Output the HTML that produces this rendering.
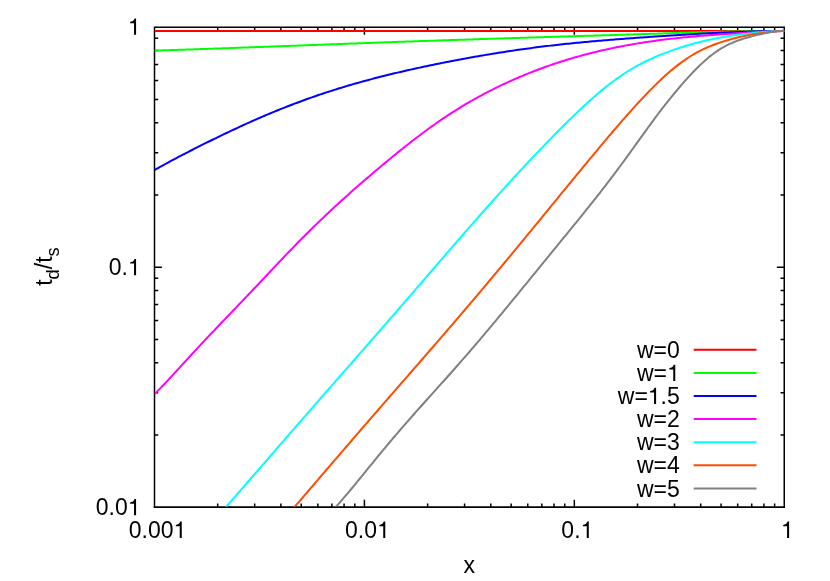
<!DOCTYPE html>
<html><head><meta charset="utf-8"><title>plot</title>
<style>
html,body{margin:0;padding:0;background:#fff;}
body{width:830px;height:581px;overflow:hidden;}
svg{display:block;will-change:transform;}
text{font-family:"Liberation Sans",sans-serif;font-size:23px;fill:#000;}
</style></head><body>
<svg width="830" height="581" viewBox="0 0 830 581">
<rect width="830" height="581" fill="#fff"/>
<defs><clipPath id="c"><rect x="154.5" y="27.35" width="629.75" height="479.09999999999997"/></clipPath></defs>
<path d="M154.5 507.95V26.6M784.25 507.95V26.6M153.75 27.35H785.0" fill="none" stroke="#000" stroke-width="1.5"/><path d="M153.75 507.15H785.0" fill="none" stroke="#000" stroke-width="1.6"/><path d="M217.69 507.15v-3.7M217.69 27.35v3.7M254.66 507.15v-3.7M254.66 27.35v3.7M280.88 507.15v-3.7M280.88 27.35v3.7M301.23 507.15v-3.7M301.23 27.35v3.7M317.85 507.15v-3.7M317.85 27.35v3.7M331.90 507.15v-3.7M331.90 27.35v3.7M344.07 507.15v-3.7M344.07 27.35v3.7M354.81 507.15v-3.7M354.81 27.35v3.7M364.42 507.15v-7.4M364.42 27.35v7.4M427.61 507.15v-3.7M427.61 27.35v3.7M464.57 507.15v-3.7M464.57 27.35v3.7M490.80 507.15v-3.7M490.80 27.35v3.7M511.14 507.15v-3.7M511.14 27.35v3.7M527.76 507.15v-3.7M527.76 27.35v3.7M541.82 507.15v-3.7M541.82 27.35v3.7M553.99 507.15v-3.7M553.99 27.35v3.7M564.73 507.15v-3.7M564.73 27.35v3.7M574.33 507.15v-7.4M574.33 27.35v7.4M637.52 507.15v-3.7M637.52 27.35v3.7M674.49 507.15v-3.7M674.49 27.35v3.7M700.72 507.15v-3.7M700.72 27.35v3.7M721.06 507.15v-3.7M721.06 27.35v3.7M737.68 507.15v-3.7M737.68 27.35v3.7M751.73 507.15v-3.7M751.73 27.35v3.7M763.91 507.15v-3.7M763.91 27.35v3.7M774.64 507.15v-3.7M774.64 27.35v3.7M154.5 434.93h3.7M784.25 434.93h-3.7M154.5 392.69h3.7M784.25 392.69h-3.7M154.5 362.72h3.7M784.25 362.72h-3.7M154.5 339.47h3.7M784.25 339.47h-3.7M154.5 320.47h3.7M784.25 320.47h-3.7M154.5 304.41h3.7M784.25 304.41h-3.7M154.5 290.50h3.7M784.25 290.50h-3.7M154.5 278.23h3.7M784.25 278.23h-3.7M154.5 267.25h7.4M784.25 267.25h-7.4M154.5 195.03h3.7M784.25 195.03h-3.7M154.5 152.79h3.7M784.25 152.79h-3.7M154.5 122.82h3.7M784.25 122.82h-3.7M154.5 99.57h3.7M784.25 99.57h-3.7M154.5 80.57h3.7M784.25 80.57h-3.7M154.5 64.51h3.7M784.25 64.51h-3.7M154.5 50.60h3.7M784.25 50.60h-3.7M154.5 38.33h3.7M784.25 38.33h-3.7" stroke="#000" stroke-width="1.5" fill="none"/>
<g clip-path="url(#c)" fill="none" stroke-width="2" stroke-linejoin="round">
<path d="M154.5 31.05H784.5" stroke="#ff0000"/>
<path d="M154.5 50.61L156.5 50.55L158.5 50.48L160.5 50.42L162.5 50.36L164.5 50.29L166.5 50.23L168.5 50.17L170.5 50.10L172.5 50.04L174.5 49.97L176.5 49.91L178.5 49.84L180.5 49.78L182.5 49.71L184.5 49.64L186.5 49.58L188.5 49.51L190.5 49.44L192.5 49.38L194.5 49.31L196.5 49.24L198.5 49.17L200.5 49.11L202.5 49.04L204.5 48.97L206.5 48.90L208.5 48.83L210.5 48.76L212.5 48.69L214.5 48.62L216.5 48.55L218.5 48.48L220.5 48.41L222.5 48.34L224.5 48.27L226.5 48.20L228.5 48.13L230.5 48.05L232.5 47.98L234.5 47.91L236.5 47.84L238.5 47.77L240.5 47.69L242.5 47.62L244.5 47.55L246.5 47.48L248.5 47.40L250.5 47.33L252.5 47.26L254.5 47.19L256.5 47.11L258.5 47.04L260.5 46.96L262.5 46.89L264.5 46.82L266.5 46.74L268.5 46.67L270.5 46.60L272.5 46.52L274.5 46.45L276.5 46.37L278.5 46.30L280.5 46.22L282.5 46.15L284.5 46.07L286.5 46.00L288.5 45.93L290.5 45.85L292.5 45.78L294.5 45.70L296.5 45.63L298.5 45.55L300.5 45.48L302.5 45.40L304.5 45.33L306.5 45.25L308.5 45.18L310.5 45.10L312.5 45.03L314.5 44.95L316.5 44.88L318.5 44.80L320.5 44.73L322.5 44.65L324.5 44.58L326.5 44.50L328.5 44.43L330.5 44.35L332.5 44.28L334.5 44.20L336.5 44.13L338.5 44.06L340.5 43.98L342.5 43.91L344.5 43.83L346.5 43.76L348.5 43.68L350.5 43.61L352.5 43.54L354.5 43.46L356.5 43.39L358.5 43.32L360.5 43.24L362.5 43.17L364.5 43.09L366.5 43.02L368.5 42.95L370.5 42.88L372.5 42.80L374.5 42.73L376.5 42.66L378.5 42.59L380.5 42.51L382.5 42.44L384.5 42.37L386.5 42.30L388.5 42.23L390.5 42.15L392.5 42.08L394.5 42.01L396.5 41.94L398.5 41.87L400.5 41.80L402.5 41.73L404.5 41.66L406.5 41.59L408.5 41.52L410.5 41.45L412.5 41.38L414.5 41.31L416.5 41.24L418.5 41.18L420.5 41.11L422.5 41.04L424.5 40.97L426.5 40.90L428.5 40.83L430.5 40.77L432.5 40.70L434.5 40.63L436.5 40.56L438.5 40.50L440.5 40.43L442.5 40.36L444.5 40.30L446.5 40.23L448.5 40.16L450.5 40.10L452.5 40.03L454.5 39.97L456.5 39.90L458.5 39.84L460.5 39.77L462.5 39.70L464.5 39.64L466.5 39.57L468.5 39.51L470.5 39.44L472.5 39.38L474.5 39.31L476.5 39.25L478.5 39.19L480.5 39.12L482.5 39.06L484.5 38.99L486.5 38.93L488.5 38.87L490.5 38.80L492.5 38.74L494.5 38.67L496.5 38.61L498.5 38.55L500.5 38.48L502.5 38.42L504.5 38.36L506.5 38.30L508.5 38.23L510.5 38.17L512.5 38.11L514.5 38.04L516.5 37.98L518.5 37.92L520.5 37.86L522.5 37.79L524.5 37.73L526.5 37.67L528.5 37.61L530.5 37.54L532.5 37.48L534.5 37.42L536.5 37.36L538.5 37.30L540.5 37.23L542.5 37.17L544.5 37.11L546.5 37.05L548.5 36.99L550.5 36.92L552.5 36.86L554.5 36.80L556.5 36.74L558.5 36.68L560.5 36.61L562.5 36.55L564.5 36.49L566.5 36.43L568.5 36.37L570.5 36.31L572.5 36.24L574.5 36.18L576.5 36.12L578.5 36.06L580.5 36.00L582.5 35.94L584.5 35.87L586.5 35.81L588.5 35.75L590.5 35.69L592.5 35.63L594.5 35.56L596.5 35.50L598.5 35.44L600.5 35.38L602.5 35.32L604.5 35.26L606.5 35.19L608.5 35.13L610.5 35.07L612.5 35.01L614.5 34.95L616.5 34.88L618.5 34.82L620.5 34.76L622.5 34.70L624.5 34.63L626.5 34.57L628.5 34.51L630.5 34.45L632.5 34.38L634.5 34.32L636.5 34.26L638.5 34.19L640.5 34.13L642.5 34.07L644.5 34.01L646.5 33.94L648.5 33.88L650.5 33.82L652.5 33.75L654.5 33.69L656.5 33.63L658.5 33.56L660.5 33.50L662.5 33.44L664.5 33.37L666.5 33.31L668.5 33.25L670.5 33.18L672.5 33.12L674.5 33.06L676.5 33.00L678.5 32.94L680.5 32.87L682.5 32.81L684.5 32.75L686.5 32.69L688.5 32.63L690.5 32.58L692.5 32.52L694.5 32.46L696.5 32.40L698.5 32.35L700.5 32.29L702.5 32.24L704.5 32.18L706.5 32.13L708.5 32.08L710.5 32.03L712.5 31.98L714.5 31.93L716.5 31.88L718.5 31.83L720.5 31.79L722.5 31.74L724.5 31.70L726.5 31.65L728.5 31.61L730.5 31.57L732.5 31.53L734.5 31.49L736.5 31.46L738.5 31.42L740.5 31.39L742.5 31.35L744.5 31.32L746.5 31.29L748.5 31.26L750.5 31.24L752.5 31.21L754.5 31.19L756.5 31.17L758.5 31.15L760.5 31.13L762.5 31.11L764.5 31.10L766.5 31.08L768.5 31.07L770.5 31.06L772.5 31.05L774.5 31.05L776.5 31.04L778.5 31.04L780.5 31.04L782.5 31.05L784.5 31.05" stroke="#00ff00"/>
<path d="M154.5 170.15L156.5 168.99L158.5 167.85L160.5 166.73L162.5 165.61L164.5 164.50L166.5 163.40L168.5 162.31L170.5 161.23L172.5 160.15L174.5 159.08L176.5 158.02L178.5 156.97L180.5 155.92L182.5 154.88L184.5 153.84L186.5 152.81L188.5 151.78L190.5 150.75L192.5 149.74L194.5 148.72L196.5 147.71L198.5 146.70L200.5 145.70L202.5 144.70L204.5 143.71L206.5 142.71L208.5 141.73L210.5 140.74L212.5 139.76L214.5 138.78L216.5 137.81L218.5 136.84L220.5 135.88L222.5 134.91L224.5 133.96L226.5 133.00L228.5 132.05L230.5 131.11L232.5 130.16L234.5 129.23L236.5 128.30L238.5 127.37L240.5 126.45L242.5 125.53L244.5 124.61L246.5 123.71L248.5 122.80L250.5 121.91L252.5 121.02L254.5 120.13L256.5 119.25L258.5 118.38L260.5 117.51L262.5 116.64L264.5 115.79L266.5 114.94L268.5 114.09L270.5 113.25L272.5 112.42L274.5 111.60L276.5 110.78L278.5 109.96L280.5 109.16L282.5 108.36L284.5 107.56L286.5 106.78L288.5 106.00L290.5 105.22L292.5 104.45L294.5 103.69L296.5 102.94L298.5 102.19L300.5 101.45L302.5 100.71L304.5 99.99L306.5 99.26L308.5 98.55L310.5 97.84L312.5 97.14L314.5 96.44L316.5 95.75L318.5 95.07L320.5 94.39L322.5 93.72L324.5 93.06L326.5 92.40L328.5 91.75L330.5 91.10L332.5 90.46L334.5 89.83L336.5 89.20L338.5 88.58L340.5 87.96L342.5 87.35L344.5 86.75L346.5 86.15L348.5 85.56L350.5 84.97L352.5 84.39L354.5 83.81L356.5 83.24L358.5 82.68L360.5 82.12L362.5 81.56L364.5 81.01L366.5 80.47L368.5 79.93L370.5 79.39L372.5 78.86L374.5 78.34L376.5 77.82L378.5 77.30L380.5 76.79L382.5 76.28L384.5 75.78L386.5 75.28L388.5 74.79L390.5 74.30L392.5 73.82L394.5 73.34L396.5 72.86L398.5 72.39L400.5 71.92L402.5 71.45L404.5 70.99L406.5 70.53L408.5 70.08L410.5 69.63L412.5 69.18L414.5 68.74L416.5 68.30L418.5 67.86L420.5 67.43L422.5 67.00L424.5 66.57L426.5 66.15L428.5 65.73L430.5 65.31L432.5 64.90L434.5 64.48L436.5 64.08L438.5 63.67L440.5 63.27L442.5 62.87L444.5 62.47L446.5 62.08L448.5 61.69L450.5 61.30L452.5 60.91L454.5 60.53L456.5 60.15L458.5 59.78L460.5 59.40L462.5 59.03L464.5 58.66L466.5 58.29L468.5 57.93L470.5 57.57L472.5 57.21L474.5 56.86L476.5 56.51L478.5 56.16L480.5 55.81L482.5 55.47L484.5 55.13L486.5 54.79L488.5 54.46L490.5 54.12L492.5 53.79L494.5 53.47L496.5 53.15L498.5 52.83L500.5 52.51L502.5 52.20L504.5 51.89L506.5 51.58L508.5 51.27L510.5 50.97L512.5 50.67L514.5 50.38L516.5 50.09L518.5 49.80L520.5 49.52L522.5 49.23L524.5 48.96L526.5 48.68L528.5 48.41L530.5 48.14L532.5 47.87L534.5 47.61L536.5 47.35L538.5 47.10L540.5 46.85L542.5 46.60L544.5 46.35L546.5 46.11L548.5 45.87L550.5 45.63L552.5 45.40L554.5 45.17L556.5 44.94L558.5 44.72L560.5 44.50L562.5 44.28L564.5 44.07L566.5 43.86L568.5 43.65L570.5 43.44L572.5 43.24L574.5 43.04L576.5 42.84L578.5 42.65L580.5 42.45L582.5 42.26L584.5 42.08L586.5 41.89L588.5 41.71L590.5 41.53L592.5 41.35L594.5 41.17L596.5 41.00L598.5 40.82L600.5 40.65L602.5 40.49L604.5 40.32L606.5 40.15L608.5 39.99L610.5 39.83L612.5 39.67L614.5 39.51L616.5 39.35L618.5 39.20L620.5 39.04L622.5 38.89L624.5 38.74L626.5 38.58L628.5 38.43L630.5 38.29L632.5 38.14L634.5 37.99L636.5 37.85L638.5 37.70L640.5 37.56L642.5 37.41L644.5 37.27L646.5 37.13L648.5 36.99L650.5 36.85L652.5 36.71L654.5 36.58L656.5 36.44L658.5 36.31L660.5 36.17L662.5 36.04L664.5 35.90L666.5 35.77L668.5 35.64L670.5 35.51L672.5 35.38L674.5 35.26L676.5 35.13L678.5 35.01L680.5 34.88L682.5 34.76L684.5 34.64L686.5 34.52L688.5 34.40L690.5 34.28L692.5 34.17L694.5 34.06L696.5 33.94L698.5 33.83L700.5 33.72L702.5 33.62L704.5 33.51L706.5 33.41L708.5 33.31L710.5 33.21L712.5 33.11L714.5 33.01L716.5 32.92L718.5 32.82L720.5 32.73L722.5 32.64L724.5 32.56L726.5 32.47L728.5 32.39L730.5 32.31L732.5 32.23L734.5 32.15L736.5 32.07L738.5 32.00L740.5 31.92L742.5 31.85L744.5 31.78L746.5 31.71L748.5 31.65L750.5 31.58L752.5 31.52L754.5 31.46L756.5 31.40L758.5 31.34L760.5 31.29L762.5 31.24L764.5 31.19L766.5 31.15L768.5 31.11L770.5 31.08L772.5 31.05L774.5 31.03L776.5 31.02L778.5 31.01L780.5 31.01L782.5 31.03L784.5 31.05" stroke="#0000ff"/>
<path d="M154.5 394.10L156.5 392.14L158.5 390.14L160.5 388.10L162.5 386.03L164.5 383.94L166.5 381.82L168.5 379.68L170.5 377.53L172.5 375.37L174.5 373.19L176.5 371.01L178.5 368.83L180.5 366.64L182.5 364.45L184.5 362.26L186.5 360.08L188.5 357.90L190.5 355.72L192.5 353.55L194.5 351.38L196.5 349.22L198.5 347.07L200.5 344.92L202.5 342.78L204.5 340.65L206.5 338.53L208.5 336.41L210.5 334.29L212.5 332.19L214.5 330.08L216.5 327.99L218.5 325.89L220.5 323.80L222.5 321.71L224.5 319.63L226.5 317.54L228.5 315.46L230.5 313.37L232.5 311.29L234.5 309.20L236.5 307.11L238.5 305.02L240.5 302.93L242.5 300.83L244.5 298.73L246.5 296.63L248.5 294.52L250.5 292.41L252.5 290.30L254.5 288.19L256.5 286.07L258.5 283.95L260.5 281.83L262.5 279.71L264.5 277.59L266.5 275.47L268.5 273.34L270.5 271.22L272.5 269.10L274.5 266.99L276.5 264.87L278.5 262.76L280.5 260.66L282.5 258.56L284.5 256.46L286.5 254.37L288.5 252.29L290.5 250.22L292.5 248.15L294.5 246.09L296.5 244.04L298.5 242.00L300.5 239.97L302.5 237.95L304.5 235.94L306.5 233.94L308.5 231.95L310.5 229.98L312.5 228.01L314.5 226.06L316.5 224.11L318.5 222.18L320.5 220.26L322.5 218.35L324.5 216.45L326.5 214.56L328.5 212.68L330.5 210.81L332.5 208.95L334.5 207.10L336.5 205.26L338.5 203.43L340.5 201.61L342.5 199.79L344.5 197.99L346.5 196.19L348.5 194.40L350.5 192.62L352.5 190.85L354.5 189.08L356.5 187.32L358.5 185.57L360.5 183.83L362.5 182.09L364.5 180.36L366.5 178.63L368.5 176.91L370.5 175.20L372.5 173.50L374.5 171.80L376.5 170.10L378.5 168.41L380.5 166.73L382.5 165.06L384.5 163.39L386.5 161.73L388.5 160.07L390.5 158.42L392.5 156.78L394.5 155.14L396.5 153.52L398.5 151.90L400.5 150.28L402.5 148.68L404.5 147.08L406.5 145.50L408.5 143.92L410.5 142.35L412.5 140.80L414.5 139.25L416.5 137.72L418.5 136.19L420.5 134.68L422.5 133.18L424.5 131.69L426.5 130.21L428.5 128.75L430.5 127.30L432.5 125.87L434.5 124.44L436.5 123.04L438.5 121.64L440.5 120.27L442.5 118.90L444.5 117.55L446.5 116.22L448.5 114.90L450.5 113.60L452.5 112.31L454.5 111.04L456.5 109.78L458.5 108.54L460.5 107.31L462.5 106.10L464.5 104.90L466.5 103.72L468.5 102.55L470.5 101.39L472.5 100.25L474.5 99.13L476.5 98.01L478.5 96.91L480.5 95.83L482.5 94.76L484.5 93.70L486.5 92.65L488.5 91.61L490.5 90.59L492.5 89.58L494.5 88.58L496.5 87.60L498.5 86.63L500.5 85.66L502.5 84.71L504.5 83.77L506.5 82.85L508.5 81.93L510.5 81.02L512.5 80.13L514.5 79.25L516.5 78.37L518.5 77.51L520.5 76.66L522.5 75.82L524.5 74.99L526.5 74.17L528.5 73.36L530.5 72.57L532.5 71.78L534.5 71.00L536.5 70.23L538.5 69.48L540.5 68.73L542.5 67.99L544.5 67.27L546.5 66.55L548.5 65.85L550.5 65.15L552.5 64.46L554.5 63.79L556.5 63.12L558.5 62.46L560.5 61.82L562.5 61.18L564.5 60.55L566.5 59.93L568.5 59.32L570.5 58.72L572.5 58.13L574.5 57.55L576.5 56.98L578.5 56.41L580.5 55.86L582.5 55.31L584.5 54.78L586.5 54.25L588.5 53.73L590.5 53.22L592.5 52.72L594.5 52.22L596.5 51.74L598.5 51.26L600.5 50.79L602.5 50.33L604.5 49.87L606.5 49.43L608.5 48.99L610.5 48.56L612.5 48.14L614.5 47.72L616.5 47.32L618.5 46.92L620.5 46.52L622.5 46.14L624.5 45.76L626.5 45.39L628.5 45.02L630.5 44.67L632.5 44.32L634.5 43.97L636.5 43.63L638.5 43.30L640.5 42.98L642.5 42.66L644.5 42.35L646.5 42.05L648.5 41.75L650.5 41.45L652.5 41.17L654.5 40.89L656.5 40.61L658.5 40.34L660.5 40.08L662.5 39.82L664.5 39.57L666.5 39.32L668.5 39.08L670.5 38.85L672.5 38.62L674.5 38.39L676.5 38.17L678.5 37.95L680.5 37.74L682.5 37.54L684.5 37.33L686.5 37.14L688.5 36.94L690.5 36.76L692.5 36.57L694.5 36.39L696.5 36.21L698.5 36.04L700.5 35.87L702.5 35.71L704.5 35.54L706.5 35.38L708.5 35.23L710.5 35.07L712.5 34.92L714.5 34.77L716.5 34.63L718.5 34.49L720.5 34.34L722.5 34.21L724.5 34.07L726.5 33.93L728.5 33.80L730.5 33.67L732.5 33.54L734.5 33.41L736.5 33.28L738.5 33.16L740.5 33.04L742.5 32.91L744.5 32.79L746.5 32.68L748.5 32.56L750.5 32.44L752.5 32.33L754.5 32.22L756.5 32.11L758.5 32.01L760.5 31.91L762.5 31.81L764.5 31.71L766.5 31.62L768.5 31.53L770.5 31.45L772.5 31.37L774.5 31.30L776.5 31.24L778.5 31.18L780.5 31.13L782.5 31.08L784.5 31.05" stroke="#ff00ff"/>
<path d="M218.0 516.04L220.0 513.77L222.0 511.50L224.0 509.23L226.0 506.96L228.0 504.69L230.0 502.41L232.0 500.13L234.0 497.85L236.0 495.56L238.0 493.27L240.0 490.98L242.0 488.68L244.0 486.38L246.0 484.08L248.0 481.78L250.0 479.48L252.0 477.18L254.0 474.87L256.0 472.57L258.0 470.26L260.0 467.95L262.0 465.65L264.0 463.34L266.0 461.03L268.0 458.73L270.0 456.42L272.0 454.11L274.0 451.81L276.0 449.50L278.0 447.20L280.0 444.89L282.0 442.59L284.0 440.29L286.0 437.99L288.0 435.69L290.0 433.39L292.0 431.09L294.0 428.80L296.0 426.50L298.0 424.20L300.0 421.91L302.0 419.62L304.0 417.33L306.0 415.04L308.0 412.75L310.0 410.46L312.0 408.17L314.0 405.88L316.0 403.59L318.0 401.31L320.0 399.02L322.0 396.74L324.0 394.46L326.0 392.17L328.0 389.89L330.0 387.61L332.0 385.33L334.0 383.04L336.0 380.76L338.0 378.48L340.0 376.20L342.0 373.92L344.0 371.64L346.0 369.35L348.0 367.07L350.0 364.79L352.0 362.51L354.0 360.22L356.0 357.94L358.0 355.65L360.0 353.37L362.0 351.08L364.0 348.80L366.0 346.51L368.0 344.22L370.0 341.93L372.0 339.64L374.0 337.35L376.0 335.06L378.0 332.76L380.0 330.47L382.0 328.17L384.0 325.87L386.0 323.57L388.0 321.27L390.0 318.97L392.0 316.67L394.0 314.37L396.0 312.06L398.0 309.76L400.0 307.45L402.0 305.14L404.0 302.83L406.0 300.52L408.0 298.21L410.0 295.89L412.0 293.58L414.0 291.27L416.0 288.95L418.0 286.63L420.0 284.32L422.0 282.00L424.0 279.69L426.0 277.37L428.0 275.05L430.0 272.73L432.0 270.42L434.0 268.10L436.0 265.78L438.0 263.47L440.0 261.15L442.0 258.84L444.0 256.53L446.0 254.22L448.0 251.90L450.0 249.60L452.0 247.29L454.0 244.98L456.0 242.68L458.0 240.38L460.0 238.08L462.0 235.78L464.0 233.49L466.0 231.20L468.0 228.91L470.0 226.63L472.0 224.34L474.0 222.07L476.0 219.79L478.0 217.52L480.0 215.26L482.0 212.99L484.0 210.73L486.0 208.48L488.0 206.23L490.0 203.99L492.0 201.75L494.0 199.51L496.0 197.28L498.0 195.06L500.0 192.84L502.0 190.62L504.0 188.42L506.0 186.21L508.0 184.02L510.0 181.83L512.0 179.64L514.0 177.47L516.0 175.29L518.0 173.13L520.0 170.97L522.0 168.82L524.0 166.67L526.0 164.53L528.0 162.40L530.0 160.27L532.0 158.15L534.0 156.04L536.0 153.93L538.0 151.83L540.0 149.74L542.0 147.66L544.0 145.58L546.0 143.51L548.0 141.45L550.0 139.39L552.0 137.34L554.0 135.31L556.0 133.28L558.0 131.25L560.0 129.24L562.0 127.24L564.0 125.24L566.0 123.26L568.0 121.29L570.0 119.33L572.0 117.38L574.0 115.44L576.0 113.52L578.0 111.61L580.0 109.71L582.0 107.83L584.0 105.97L586.0 104.13L588.0 102.30L590.0 100.49L592.0 98.71L594.0 96.94L596.0 95.20L598.0 93.49L600.0 91.79L602.0 90.13L604.0 88.49L606.0 86.88L608.0 85.30L610.0 83.75L612.0 82.22L614.0 80.73L616.0 79.28L618.0 77.85L620.0 76.46L622.0 75.09L624.0 73.77L626.0 72.47L628.0 71.21L630.0 69.98L632.0 68.78L634.0 67.61L636.0 66.47L638.0 65.37L640.0 64.29L642.0 63.24L644.0 62.22L646.0 61.23L648.0 60.26L650.0 59.32L652.0 58.40L654.0 57.51L656.0 56.63L658.0 55.78L660.0 54.95L662.0 54.15L664.0 53.36L666.0 52.59L668.0 51.83L670.0 51.10L672.0 50.38L674.0 49.68L676.0 49.00L678.0 48.33L680.0 47.68L682.0 47.04L684.0 46.42L686.0 45.81L688.0 45.22L690.0 44.64L692.0 44.07L694.0 43.52L696.0 42.99L698.0 42.47L700.0 41.96L702.0 41.46L704.0 40.98L706.0 40.51L708.0 40.06L710.0 39.62L712.0 39.19L714.0 38.78L716.0 38.38L718.0 38.00L720.0 37.62L722.0 37.27L724.0 36.92L726.0 36.59L728.0 36.27L730.0 35.96L732.0 35.67L734.0 35.38L736.0 35.11L738.0 34.85L740.0 34.59L742.0 34.35L744.0 34.11L746.0 33.88L748.0 33.65L750.0 33.43L752.0 33.22L754.0 33.00L756.0 32.79L758.0 32.58L760.0 32.38L762.0 32.18L764.0 31.98L766.0 31.79L768.0 31.61L770.0 31.45L772.0 31.29L774.0 31.16L776.0 31.06L778.0 30.98L780.0 30.95L782.0 30.96L784.0 31.02L784.5 31.05" stroke="#00ffff"/>
<path d="M286.5 516.23L288.5 513.92L290.5 511.61L292.5 509.30L294.5 506.99L296.5 504.68L298.5 502.37L300.5 500.05L302.5 497.73L304.5 495.40L306.5 493.08L308.5 490.75L310.5 488.42L312.5 486.09L314.5 483.76L316.5 481.43L318.5 479.10L320.5 476.76L322.5 474.43L324.5 472.10L326.5 469.76L328.5 467.43L330.5 465.10L332.5 462.77L334.5 460.44L336.5 458.11L338.5 455.78L340.5 453.45L342.5 451.12L344.5 448.80L346.5 446.48L348.5 444.15L350.5 441.83L352.5 439.51L354.5 437.20L356.5 434.88L358.5 432.56L360.5 430.25L362.5 427.94L364.5 425.63L366.5 423.32L368.5 421.01L370.5 418.71L372.5 416.40L374.5 414.10L376.5 411.80L378.5 409.49L380.5 407.19L382.5 404.90L384.5 402.60L386.5 400.30L388.5 398.00L390.5 395.71L392.5 393.41L394.5 391.12L396.5 388.82L398.5 386.53L400.5 384.24L402.5 381.94L404.5 379.65L406.5 377.35L408.5 375.06L410.5 372.77L412.5 370.47L414.5 368.18L416.5 365.88L418.5 363.58L420.5 361.28L422.5 358.98L424.5 356.68L426.5 354.38L428.5 352.08L430.5 349.77L432.5 347.47L434.5 345.16L436.5 342.85L438.5 340.54L440.5 338.22L442.5 335.91L444.5 333.59L446.5 331.27L448.5 328.94L450.5 326.62L452.5 324.29L454.5 321.96L456.5 319.63L458.5 317.29L460.5 314.95L462.5 312.61L464.5 310.27L466.5 307.92L468.5 305.57L470.5 303.21L472.5 300.86L474.5 298.50L476.5 296.14L478.5 293.77L480.5 291.40L482.5 289.03L484.5 286.65L486.5 284.28L488.5 281.90L490.5 279.51L492.5 277.13L494.5 274.74L496.5 272.34L498.5 269.95L500.5 267.55L502.5 265.15L504.5 262.75L506.5 260.34L508.5 257.93L510.5 255.52L512.5 253.11L514.5 250.69L516.5 248.27L518.5 245.85L520.5 243.43L522.5 241.00L524.5 238.57L526.5 236.15L528.5 233.71L530.5 231.28L532.5 228.85L534.5 226.41L536.5 223.98L538.5 221.54L540.5 219.10L542.5 216.66L544.5 214.22L546.5 211.78L548.5 209.34L550.5 206.89L552.5 204.45L554.5 202.01L556.5 199.57L558.5 197.12L560.5 194.68L562.5 192.24L564.5 189.80L566.5 187.36L568.5 184.92L570.5 182.49L572.5 180.05L574.5 177.62L576.5 175.18L578.5 172.75L580.5 170.33L582.5 167.90L584.5 165.48L586.5 163.06L588.5 160.64L590.5 158.23L592.5 155.82L594.5 153.42L596.5 151.02L598.5 148.62L600.5 146.23L602.5 143.85L604.5 141.47L606.5 139.10L608.5 136.73L610.5 134.37L612.5 132.02L614.5 129.68L616.5 127.35L618.5 125.03L620.5 122.71L622.5 120.41L624.5 118.12L626.5 115.85L628.5 113.58L630.5 111.33L632.5 109.10L634.5 106.88L636.5 104.68L638.5 102.50L640.5 100.34L642.5 98.20L644.5 96.08L646.5 93.98L648.5 91.91L650.5 89.86L652.5 87.84L654.5 85.85L656.5 83.88L658.5 81.95L660.5 80.05L662.5 78.18L664.5 76.35L666.5 74.55L668.5 72.79L670.5 71.07L672.5 69.39L674.5 67.75L676.5 66.15L678.5 64.60L680.5 63.09L682.5 61.63L684.5 60.21L686.5 58.84L688.5 57.52L690.5 56.25L692.5 55.02L694.5 53.84L696.5 52.71L698.5 51.63L700.5 50.60L702.5 49.61L704.5 48.66L706.5 47.75L708.5 46.89L710.5 46.06L712.5 45.27L714.5 44.51L716.5 43.78L718.5 43.08L720.5 42.41L722.5 41.76L724.5 41.14L726.5 40.53L728.5 39.95L730.5 39.38L732.5 38.84L734.5 38.30L736.5 37.79L738.5 37.29L740.5 36.82L742.5 36.36L744.5 35.92L746.5 35.50L748.5 35.11L750.5 34.74L752.5 34.40L754.5 34.08L756.5 33.78L758.5 33.50L760.5 33.25L762.5 33.00L764.5 32.77L766.5 32.54L768.5 32.31L770.5 32.07L772.5 31.81L774.5 31.54L776.5 31.28L778.5 31.05L780.5 30.89L782.5 30.86L784.5 31.05" stroke="#ff4d00"/>
<path d="M327.7 515.71L329.7 513.53L331.7 511.36L333.7 509.18L335.7 507.00L337.7 504.80L339.7 502.56L341.7 500.28L343.7 497.97L345.7 495.64L347.7 493.27L349.7 490.89L351.7 488.49L353.7 486.07L355.7 483.64L357.7 481.20L359.7 478.75L361.7 476.29L363.7 473.84L365.7 471.38L367.7 468.92L369.7 466.46L371.7 464.01L373.7 461.56L375.7 459.12L377.7 456.68L379.7 454.25L381.7 451.83L383.7 449.42L385.7 447.02L387.7 444.63L389.7 442.25L391.7 439.87L393.7 437.51L395.7 435.17L397.7 432.83L399.7 430.50L401.7 428.18L403.7 425.87L405.7 423.57L407.7 421.29L409.7 419.00L411.7 416.73L413.7 414.47L415.7 412.21L417.7 409.96L419.7 407.72L421.7 405.48L423.7 403.24L425.7 401.01L427.7 398.78L429.7 396.56L431.7 394.33L433.7 392.11L435.7 389.88L437.7 387.66L439.7 385.43L441.7 383.20L443.7 380.97L445.7 378.74L447.7 376.50L449.7 374.25L451.7 372.00L453.7 369.75L455.7 367.49L457.7 365.22L459.7 362.95L461.7 360.67L463.7 358.38L465.7 356.09L467.7 353.79L469.7 351.48L471.7 349.16L473.7 346.83L475.7 344.50L477.7 342.16L479.7 339.82L481.7 337.46L483.7 335.10L485.7 332.73L487.7 330.36L489.7 327.98L491.7 325.59L493.7 323.19L495.7 320.79L497.7 318.39L499.7 315.98L501.7 313.56L503.7 311.14L505.7 308.72L507.7 306.29L509.7 303.85L511.7 301.42L513.7 298.98L515.7 296.54L517.7 294.09L519.7 291.64L521.7 289.20L523.7 286.74L525.7 284.29L527.7 281.84L529.7 279.39L531.7 276.93L533.7 274.48L535.7 272.03L537.7 269.57L539.7 267.12L541.7 264.66L543.7 262.21L545.7 259.76L547.7 257.31L549.7 254.86L551.7 252.41L553.7 249.96L555.7 247.51L557.7 245.06L559.7 242.61L561.7 240.17L563.7 237.72L565.7 235.27L567.7 232.82L569.7 230.37L571.7 227.92L573.7 225.46L575.7 223.01L577.7 220.55L579.7 218.08L581.7 215.61L583.7 213.14L585.7 210.66L587.7 208.17L589.7 205.68L591.7 203.17L593.7 200.66L595.7 198.13L597.7 195.59L599.7 193.04L601.7 190.48L603.7 187.90L605.7 185.31L607.7 182.71L609.7 180.08L611.7 177.45L613.7 174.79L615.7 172.12L617.7 169.44L619.7 166.74L621.7 164.03L623.7 161.30L625.7 158.55L627.7 155.80L629.7 153.04L631.7 150.26L633.7 147.48L635.7 144.70L637.7 141.91L639.7 139.12L641.7 136.34L643.7 133.56L645.7 130.79L647.7 128.03L649.7 125.29L651.7 122.56L653.7 119.85L655.7 117.16L657.7 114.49L659.7 111.85L661.7 109.23L663.7 106.65L665.7 104.09L667.7 101.56L669.7 99.06L671.7 96.59L673.7 94.15L675.7 91.74L677.7 89.36L679.7 87.02L681.7 84.70L683.7 82.42L685.7 80.17L687.7 77.95L689.7 75.78L691.7 73.64L693.7 71.54L695.7 69.48L697.7 67.47L699.7 65.51L701.7 63.61L703.7 61.76L705.7 59.98L707.7 58.26L709.7 56.60L711.7 55.02L713.7 53.51L715.7 52.06L717.7 50.70L719.7 49.40L721.7 48.18L723.7 47.02L725.7 45.94L727.7 44.92L729.7 43.96L731.7 43.06L733.7 42.21L735.7 41.42L737.7 40.67L739.7 39.96L741.7 39.29L743.7 38.66L745.7 38.05L747.7 37.48L749.7 36.92L751.7 36.39L753.7 35.87L755.7 35.37L757.7 34.88L759.7 34.41L761.7 33.95L763.7 33.51L765.7 33.09L767.7 32.68L769.7 32.31L771.7 31.97L773.7 31.66L775.7 31.41L777.7 31.20L779.7 31.06L781.7 31.00L783.7 31.02L784.5 31.05" stroke="#808080"/>
</g>
<path d="M693.7 349.80H756.5" stroke="#ff0000" stroke-width="2" fill="none"/><path d="M693.7 372.90H756.5" stroke="#00ff00" stroke-width="2" fill="none"/><path d="M693.7 396.00H756.5" stroke="#0000ff" stroke-width="2" fill="none"/><path d="M693.7 419.10H756.5" stroke="#ff00ff" stroke-width="2" fill="none"/><path d="M693.7 442.20H756.5" stroke="#00ffff" stroke-width="2" fill="none"/><path d="M693.7 465.30H756.5" stroke="#ff4d00" stroke-width="2" fill="none"/><path d="M693.7 488.40H756.5" stroke="#808080" stroke-width="2" fill="none"/>
<path d="M359 0H271V505H102V566C196 572 262 604 291 709H359Z" transform="translate(127.81,34.80) scale(0.0230,-0.0230)" fill="#000"/><text x="108.63" y="275.20">0.</text><path d="M359 0H271V505H102V566C196 572 262 604 291 709H359Z" transform="translate(127.81,275.20) scale(0.0230,-0.0230)" fill="#000"/><text x="95.84" y="515.30">0.0</text><path d="M359 0H271V505H102V566C196 572 262 604 291 709H359Z" transform="translate(127.81,515.30) scale(0.0230,-0.0230)" fill="#000"/><text x="128.73" y="537.90">0.00</text><path d="M359 0H271V505H102V566C196 572 262 604 291 709H359Z" transform="translate(173.49,537.90) scale(0.0230,-0.0230)" fill="#000"/><text x="345.04" y="537.90">0.0</text><path d="M359 0H271V505H102V566C196 572 262 604 291 709H359Z" transform="translate(377.01,537.90) scale(0.0230,-0.0230)" fill="#000"/><text x="561.35" y="537.90">0.</text><path d="M359 0H271V505H102V566C196 572 262 604 291 709H359Z" transform="translate(580.53,537.90) scale(0.0230,-0.0230)" fill="#000"/><path d="M359 0H271V505H102V566C196 572 262 604 291 709H359Z" transform="translate(780.86,537.90) scale(0.0230,-0.0230)" fill="#000"/><text x="469.2" y="572.8" text-anchor="middle">x</text><text transform="translate(52.4,266.5) rotate(-90)" text-anchor="middle">t<tspan dy="7" font-size="18.4">d</tspan><tspan dy="-7">/t</tspan><tspan dy="7" font-size="18.4">s</tspan></text><text x="636.97" y="357.90">w=0</text><text x="636.97" y="381.00">w=</text><path d="M359 0H271V505H102V566C196 572 262 604 291 709H359Z" transform="translate(667.01,381.00) scale(0.0230,-0.0230)" fill="#000"/><text x="617.79" y="404.10">w=</text><path d="M359 0H271V505H102V566C196 572 262 604 291 709H359Z" transform="translate(647.83,404.10) scale(0.0230,-0.0230)" fill="#000"/><text x="660.62" y="404.10">.5</text><text x="636.97" y="427.20">w=2</text><text x="636.97" y="450.30">w=3</text><text x="636.97" y="473.40">w=4</text><text x="636.97" y="496.50">w=5</text>
</svg>
</body></html>
